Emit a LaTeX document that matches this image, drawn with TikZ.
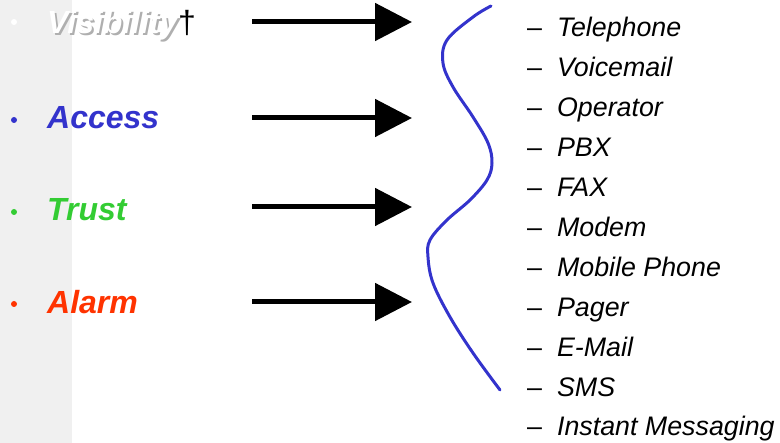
\documentclass[tikz,border=0pt]{standalone}
\usepackage{fontspec}
\setmainfont{Liberation Sans}
\usetikzlibrary{arrows.meta,positioning}
\definecolor{mygray}{RGB}{240,240,240}
\definecolor{myblue}{RGB}{51,51,204}
\definecolor{mygreen}{RGB}{51,204,51}
\definecolor{myred}{RGB}{255,51,0}
\definecolor{myshadow}{RGB}{175,175,175}

\begin{document}
\begin{tikzpicture}[
  x=1pt, y=-1pt,
  keyword/.style={
    anchor=base west,
    inner sep=0pt,
    font=\fontsize{32}{38}\selectfont\bfseries\itshape,
    text=#1
    },
  mybullet/.style={
    circle,
    fill=#1,
    inner sep=0pt,
    minimum size=6pt
  },
  bigarrow/.style={
    line width=5pt,
    -{Triangle[length=37pt,width=37pt]}
  },
  channel/.style={
    anchor=base west,
    inner sep=0pt,
    font=\fontsize{26.8}{30}\selectfont\itshape
  }
]
\useasboundingbox (0,0) rectangle (780,443);
\fill[mygray] (0,0) rectangle (72,443);

\foreach \Col/\Y [count=\i] in {white/22, myblue/120, mygreen/212, myred/304}
  \node[mybullet=\Col] (bullet\i) at (14,\Y) {};

% white text with a grey shadow behind it
\node[keyword=white] (vis) at (47,34)
  {\rlap{\hspace{2pt}\raisebox{-2pt}{\color{myshadow}Visibility}}Visibility};
\node[anchor=base west, inner sep=0pt, font=\fontsize{32}{38}\selectfont]
  (dagger) at (vis.base east) {†};
\node[keyword=myblue] (access) at (47,129) {Access};
\node[keyword=mygreen] (trust) at (47,221) {Trust};
\node[keyword=myred] (alarm) at (47,314) {Alarm};

\foreach \Y [count=\i] in {22,118,207,302}
{
  \coordinate (from\i) at (252,\Y);
  \coordinate (to\i) at (412,\Y);
  \draw[bigarrow] (from\i) -- (to\i);
}

\draw[myblue, line width=3pt, line cap=round]
  plot[smooth, tension=0.6] coordinates {
    (491,6) (473,17) (447,40) (443,63) (453,87) (473,117) (488,143)
    (492,163) (487,180) (470,200) (447,220) (430,240) (428,257)
    (433,283) (450,317) (473,353) (500,390)};

\foreach \Item [count=\i from 0] in {Telephone, Voicemail, Operator, PBX,
  FAX, Modem, Mobile Phone, Pager, E-Mail, SMS, Instant Messaging}
  \node[channel] (item\i) at (527,{37+39.9*\i}) {{\upshape –}\hspace{15pt}\Item};

\end{tikzpicture}
\end{document}
